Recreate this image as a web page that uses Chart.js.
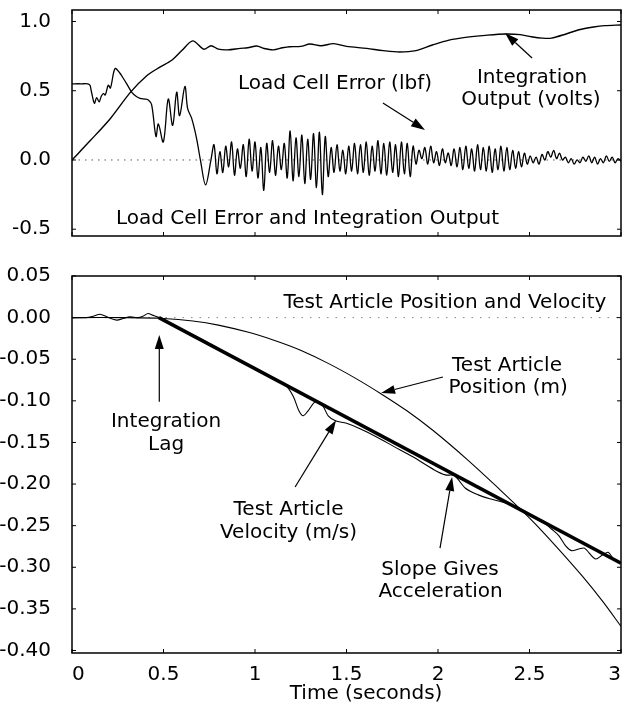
<!DOCTYPE html>
<html>
<head>
<meta charset="utf-8">
<script src="https://cdn.jsdelivr.net/npm/chart.js@4.4.1/dist/chart.umd.min.js"></script>
<style>
  html, body { margin: 0; padding: 0; background: #fff; }
  canvas { display: block; }
</style>
</head>
<body>
<canvas id="topChart" width="622" height="245"></canvas>
<canvas id="bottomChart" width="622" height="462"></canvas>
<script>
// ticks
const timeTicks = [0, 0.5, 1, 1.5, 2, 2.5, 3];
const topTicks = [-0.5, 0, 0.5, 1.0];
const bottomTicks = [0.05, 0, -0.05, -0.10, -0.15, -0.20, -0.25, -0.30, -0.35, -0.40];

// zero reference lines
const baseTime = [0, 3];
const baseValue = [0, 0];

// top panel: integration output (volts)
const intTime = [0, 0.10, 0.21, 0.32, 0.41, 0.48, 0.545, 0.60, 0.66, 0.72, 0.76, 0.80, 0.85, 0.92, 0.96,
  1.01, 1.05, 1.10, 1.15, 1.19, 1.25, 1.30, 1.36, 1.43, 1.50, 1.61, 1.70, 1.79, 1.88, 1.97,
  2.06, 2.15, 2.26, 2.37, 2.45, 2.51, 2.57, 2.62, 2.70, 2.77, 2.85, 2.91, 3.00];
const intVolts = [0, 0.14, 0.30, 0.49, 0.61, 0.67, 0.72, 0.79, 0.86, 0.80, 0.825, 0.80, 0.795, 0.806, 0.81,
  0.823, 0.805, 0.795, 0.81, 0.818, 0.82, 0.837, 0.825, 0.84, 0.82, 0.806, 0.79, 0.78, 0.79, 0.83,
  0.865, 0.885, 0.90, 0.91, 0.905, 0.89, 0.88, 0.88, 0.91, 0.94, 0.96, 0.97, 0.975];

// top panel: load cell error (lbf)
const errTime = [0, 0.05, 0.095, 0.105, 0.122, 0.135, 0.148, 0.16, 0.171, 0.182, 0.198, 0.21, 0.235, 0.26,
  0.28, 0.299, 0.326, 0.35, 0.372, 0.40, 0.417, 0.435, 0.459, 0.472, 0.499, 0.526, 0.55, 0.572,
  0.588, 0.617, 0.632, 0.654, 0.68, 0.703, 0.73, 0.758, 0.776,
  0.792, 0.808, 0.824, 0.840, 0.856, 0.872, 0.888, 0.904, 0.920, 0.936,
  0.952, 0.968, 0.984, 1.000, 1.016, 1.032, 1.048, 1.064, 1.080, 1.096,
  1.112, 1.128, 1.144, 1.160, 1.176, 1.192, 1.208, 1.224, 1.240, 1.256,
  1.272, 1.288, 1.304, 1.320, 1.336, 1.352, 1.368, 1.384, 1.400, 1.416,
  1.432, 1.448, 1.464, 1.480, 1.496, 1.512, 1.528, 1.544, 1.560, 1.576,
  1.592, 1.608, 1.624, 1.640, 1.656, 1.672, 1.688, 1.704, 1.720, 1.736,
  1.752, 1.768, 1.784, 1.800, 1.816, 1.832, 1.848, 1.864, 1.880, 1.896,
  1.912, 1.928, 1.944, 1.960, 1.976, 1.992, 2.008, 2.024, 2.040, 2.056,
  2.072, 2.088, 2.104, 2.120, 2.136, 2.152, 2.168, 2.184, 2.200, 2.216,
  2.232, 2.248, 2.264, 2.280, 2.296, 2.312, 2.328, 2.344, 2.360, 2.376,
  2.392, 2.408, 2.424, 2.440, 2.456, 2.472, 2.488, 2.504, 2.520, 2.536,
  2.552, 2.568, 2.584, 2.600, 2.616, 2.632, 2.648, 2.664, 2.680, 2.696,
  2.712, 2.728, 2.744, 2.760, 2.776, 2.792, 2.808, 2.824, 2.840, 2.856,
  2.872, 2.888, 2.904, 2.920, 2.936, 2.952, 2.968, 2.984, 3.000];
const errLbf = [0.55, 0.55, 0.545, 0.50, 0.41, 0.45, 0.42, 0.46, 0.48, 0.47, 0.54, 0.52, 0.66, 0.63,
  0.59, 0.55, 0.49, 0.46, 0.445, 0.44, 0.433, 0.40, 0.17, 0.26, 0.13, 0.44, 0.25, 0.49,
  0.32, 0.53, 0.37, 0.30, 0.16, -0.01, -0.18, -0.01, 0.11,
  -0.10, 0.06, -0.09, 0.10, -0.05, 0.13, -0.11, 0.08, -0.06, 0.11,
  -0.12, 0.15, -0.08, 0.13, -0.13, 0.09, -0.22, 0.12, -0.09, 0.14,
  -0.11, 0.10, -0.07, 0.12, -0.13, 0.21, -0.15, 0.16, -0.12, 0.18,
  -0.17, 0.15, -0.14, 0.19, -0.20, 0.20, -0.25, 0.17, -0.12, 0.09,
  -0.09, 0.11, -0.08, 0.07, -0.10, 0.10, -0.08, 0.12, -0.10, 0.11,
  -0.09, 0.13, -0.11, 0.10, -0.08, 0.14, -0.10, 0.12, -0.11, 0.13,
  -0.09, 0.11, -0.12, 0.13, -0.10, 0.12, -0.12, 0.10, -0.03, 0.07,
  0.01, 0.09, -0.03, 0.10, -0.02, 0.06, -0.04, 0.08, -0.02, 0.05,
  -0.04, 0.08, -0.05, 0.09, -0.07, 0.10, -0.06, 0.08, -0.08, 0.11,
  -0.07, 0.09, -0.08, 0.10, -0.09, 0.08, -0.07, 0.10, -0.08, 0.09,
  -0.07, 0.07, -0.06, 0.06, -0.05, 0.05, -0.03, 0.03, -0.02, 0.02,
  -0.03, 0.04, 0.00, 0.06, 0.02, 0.07, 0.01, 0.05, 0.00, 0.02,
  -0.02, 0.01, -0.03, 0.00, -0.02, 0.02, -0.01, 0.03, -0.02, 0.02,
  -0.03, 0.01, -0.02, 0.03, -0.01, 0.02, -0.02, 0.01, -0.01];

// bottom panel: test article position (m)
const posTime = [0, 0.3, 0.5, 0.66, 0.80, 0.97, 1.127, 1.246, 1.40, 1.55, 1.692, 1.83, 1.975, 2.157, 2.33, 2.51, 2.65, 2.79, 2.90, 3.00];
const posMeters = [0, 0, -0.001, -0.004, -0.009, -0.018, -0.029, -0.039, -0.055, -0.073, -0.092, -0.112, -0.136, -0.170, -0.205, -0.243, -0.276, -0.311, -0.341, -0.371];

// bottom panel: test article velocity (m/s)
const velTime = [0, 0.08, 0.12, 0.153, 0.19, 0.244, 0.28, 0.317, 0.36, 0.39, 0.415, 0.44, 0.475, 0.6, 0.75, 0.9,
  1.0, 1.1, 1.17, 1.21, 1.24, 1.263, 1.29, 1.33, 1.37, 1.40, 1.44, 1.5, 1.58, 1.67, 1.76, 1.86, 1.98,
  2.04, 2.09, 2.15, 2.22, 2.29, 2.36, 2.43, 2.50, 2.56, 2.62, 2.66, 2.70, 2.73, 2.77, 2.80, 2.86, 2.90, 2.93, 2.96, 3.0];
const velMps = [0, 0.000, 0.002, 0.004, 0.001, -0.003, -0.001, 0.001, 0.000, 0.002, 0.005, 0.003, 0.000, -0.014, -0.031, -0.050,
  -0.061, -0.073, -0.082, -0.095, -0.112, -0.118, -0.112, -0.101, -0.106, -0.118, -0.124, -0.127, -0.134, -0.144, -0.155, -0.167, -0.183,
  -0.189, -0.190, -0.205, -0.213, -0.218, -0.222, -0.227, -0.237, -0.243, -0.254, -0.262, -0.275, -0.280, -0.278, -0.277, -0.290, -0.285, -0.282, -0.290, -0.294];

// bottom panel: straight line whose slope gives acceleration
const fitTime = [0.475, 3.0];
const fitMps = [0, -0.295];

const pts = (xs, ys) => xs.map((x, i) => ({ x: x, y: ys[i] }));
const font = { family: '"DejaVu Sans", sans-serif', size: 20 };
Chart.defaults.font.family = font.family;
Chart.defaults.color = '#000';

function drawArrow(ctx, x0, y0, x1, y1) {
    const ang = Math.atan2(y1 - y0, x1 - x0);
    const len = 14, half = 4.5;
    const bx = x1 - len * Math.cos(ang);
    const by = y1 - len * Math.sin(ang);
    ctx.lineWidth = 1.2;
    ctx.beginPath();
    ctx.moveTo(x0, y0);
    ctx.lineTo(bx, by);
    ctx.stroke();
    ctx.beginPath();
    ctx.moveTo(x1, y1);
    ctx.lineTo(bx + half * Math.sin(ang), by - half * Math.cos(ang));
    ctx.lineTo(bx - half * Math.sin(ang), by + half * Math.cos(ang));
    ctx.closePath();
    ctx.fill();
}

// labels and arrows, placed in data coordinates
const notesPlugin = {
    id: 'notes',
    afterDatasetsDraw(chart, args, opts) {
        const { ctx } = chart;
        const x = chart.scales.x, y = chart.scales.y;
        ctx.save();
        ctx.fillStyle = '#000';
        ctx.strokeStyle = '#000';
        ctx.font = '20px ' + font.family;
        ctx.textAlign = 'center';
        ctx.textBaseline = 'alphabetic';
        (opts.texts || []).forEach(n => {
            ctx.fillText(n.text, x.getPixelForValue(n.t), y.getPixelForValue(n.v));
        });
        (opts.arrows || []).forEach(a => {
            drawArrow(ctx, x.getPixelForValue(a.from[0]), y.getPixelForValue(a.from[1]),
                x.getPixelForValue(a.to[0]), y.getPixelForValue(a.to[1]));
        });
        ctx.restore();
    }
};

// box round the plot with small inward tick marks
const framePlugin = {
    id: 'frame',
    afterDatasetsDraw(chart, args, opts) {
        const { ctx, chartArea: a } = chart;
        const x = chart.scales.x, y = chart.scales.y;
        ctx.save();
        ctx.strokeStyle = '#000';
        ctx.lineWidth = 1.5;
        ctx.strokeRect(a.left, a.top, a.right - a.left, a.bottom - a.top);
        ctx.lineWidth = 1;
        ctx.beginPath();
        timeTicks.forEach(v => {
            const px = x.getPixelForValue(v);
            ctx.moveTo(px, a.bottom); ctx.lineTo(px, a.bottom - 4);
            ctx.moveTo(px, a.top); ctx.lineTo(px, a.top + 4);
        });
        opts.yTicks.forEach(v => {
            const py = y.getPixelForValue(v);
            ctx.moveTo(a.left, py); ctx.lineTo(a.left + 4, py);
            ctx.moveTo(a.right, py); ctx.lineTo(a.right - 4, py);
        });
        ctx.stroke();
        ctx.restore();
    }
};

function yScale(min, max, ticks, digits) {
    return {
        type: 'linear',
        min: min,
        max: max,
        grid: { display: false },
        border: { display: false },
        afterBuildTicks: s => { s.ticks = ticks.map(value => ({ value })); },
        afterFit: s => { s.width = 72; s.paddingTop = 0; s.paddingBottom = 0; },
        ticks: { padding: 13, color: '#000', font: font, callback: v => v.toFixed(digits) }
    };
}

function line(data, width, extra) {
    return Object.assign({
        data: data,
        borderColor: '#000',
        borderWidth: width,
        pointRadius: 0,
        fill: false,
        tension: 0.3
    }, extra || {});
}

const baseOptions = {
    responsive: false,
    animation: false,
    devicePixelRatio: 1,
    parsing: true
};

new Chart(document.getElementById('topChart').getContext('2d'), {
    type: 'line',
    data: {
        datasets: [
            line(pts(intTime, intVolts), 1.4),
            line(pts(errTime, errLbf), 1.3, { tension: 0.35 }),
            line(pts(baseTime, baseValue), 1, { borderColor: '#555', borderDash: [1.5, 5], tension: 0 })
        ]
    },
    options: Object.assign({}, baseOptions, {
        layout: { padding: { left: 0, right: 1, top: 10, bottom: 9 } },
        scales: {
            x: { type: 'linear', min: 0, max: 3, display: false },
            y: yScale(-0.549, 1.083, topTicks, 1)
        },
        plugins: {
            legend: { display: false },
            tooltip: { enabled: false },
            frame: { yTicks: topTicks },
            notes: {
                texts: [
                    { text: 'Load Cell Error (lbf)', t: 1.437, v: 0.509 },
                    { text: 'Integration', t: 2.514, v: 0.556 },
                    { text: 'Output (volts)', t: 2.508, v: 0.397 },
                    { text: 'Load Cell Error and Integration Output', t: 1.287, v: -0.462 }
                ],
                arrows: [
                    { from: [1.699, 0.412], to: [1.929, 0.217] },
                    { from: [2.514, 0.736], to: [2.366, 0.917] }
                ]
            }
        }
    }),
    plugins: [framePlugin, notesPlugin]
});

new Chart(document.getElementById('bottomChart').getContext('2d'), {
    type: 'line',
    data: {
        datasets: [
            line(pts(fitTime, fitMps), 3.5, { tension: 0 }),
            line(pts(velTime, velMps), 1.1),
            line(pts(posTime, posMeters), 1.1, { tension: 0.3 }),
            line(pts(baseTime, baseValue), 1, { borderColor: '#888', borderDash: [1.5, 7], tension: 0 })
        ]
    },
    options: Object.assign({}, baseOptions, {
        layout: { padding: { left: 0, right: 1, top: 31, bottom: 0 } },
        scales: {
            x: {
                type: 'linear',
                min: 0,
                max: 3,
                grid: { display: false },
                border: { display: false },
                afterBuildTicks: s => { s.ticks = timeTicks.map(value => ({ value })); },
                afterFit: s => { s.height = 54; s.paddingLeft = 0; s.paddingRight = 0; },
                ticks: { align: 'inner', padding: 2, maxRotation: 0, autoSkip: false, color: '#000', font: font, callback: v => String(v) }
            },
            y: yScale(-0.403, 0.05, bottomTicks, 2)
        },
        plugins: {
            legend: { display: false },
            tooltip: { enabled: false },
            frame: { yTicks: bottomTicks },
            notes: {
                texts: [
                    { text: 'Test Article Position and Velocity', t: 2.038, v: 0.0115 },
                    { text: 'Test Article', t: 2.377, v: -0.0642 },
                    { text: 'Position (m)', t: 2.383, v: -0.0906 },
                    { text: 'Integration', t: 0.514, v: -0.131 },
                    { text: 'Lag', t: 0.514, v: -0.159 },
                    { text: 'Test Article', t: 1.183, v: -0.237 },
                    { text: 'Velocity (m/s)', t: 1.183, v: -0.265 },
                    { text: 'Slope Gives', t: 2.011, v: -0.309 },
                    { text: 'Acceleration', t: 2.014, v: -0.336 },
                    { text: 'Time (seconds)', t: 1.607, v: -0.4584 }
                ],
                arrows: [
                    { from: [2.027, -0.0714], to: [1.689, -0.0906] },
                    { from: [0.477, -0.101], to: [0.477, -0.021] },
                    { from: [1.219, -0.2036], to: [1.443, -0.1233] },
                    { from: [2.011, -0.277], to: [2.077, -0.1916] }
                ]
            }
        }
    }),
    plugins: [framePlugin, notesPlugin]
});
</script>
</body>
</html>
